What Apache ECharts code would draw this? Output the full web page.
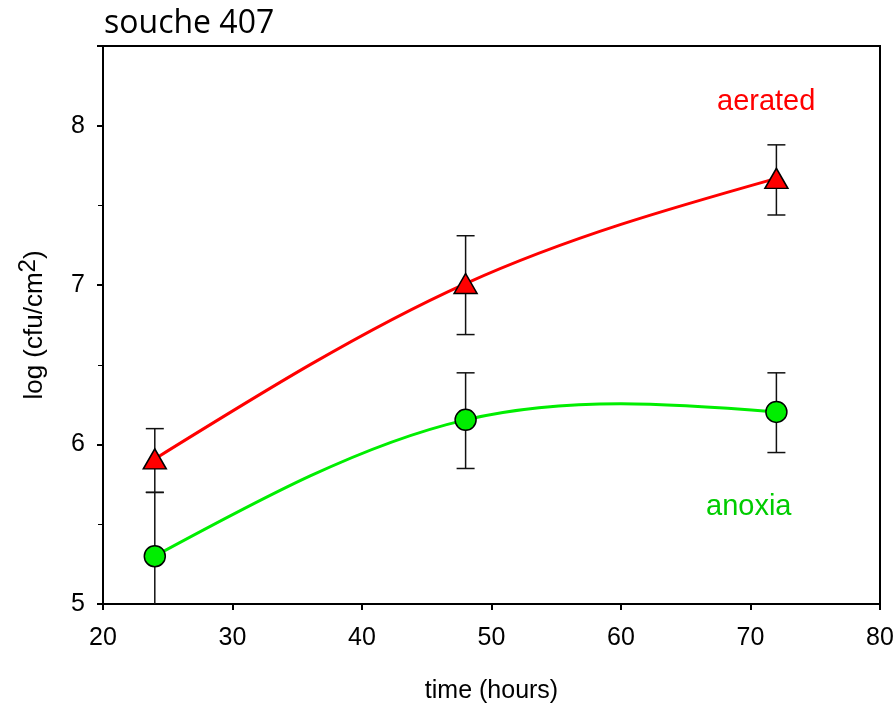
<!DOCTYPE html>
<html>
<head>
<meta charset="utf-8">
<script src="https://cdn.jsdelivr.net/npm/echarts@6/dist/echarts.min.js"></script>
<style>
  html, body { margin: 0; padding: 0; background: #fff; }
  #container { width: 896px; height: 705px; }
</style>
</head>
<body>
<div id="container"></div>
<script>
  // time (hours)
  var hours = [24, 48, 72];
  // log(cfu/cm2) means and error bar ends
  var aerated = [5.91, 7.01, 7.67];
  var aeratedHigh = [6.10, 7.31, 7.88];
  var aeratedLow = [5.70, 6.69, 7.44];
  var anoxia = [5.30, 6.155, 6.205];
  var anoxiaHigh = [5.70, 6.45, 6.45];
  var anoxiaLow = [4.90, 5.85, 5.95];

  var dom = document.getElementById('container');
  var myChart = echarts.init(dom);

  function pairs(xs, ys) {
    return xs.map(function (x, i) { return [x, ys[i]]; });
  }
  function errData(xs, lo, hi) {
    return xs.map(function (x, i) { return [x, lo[i], hi[i]]; });
  }

  function renderErr(params, api) {
    var x = api.value(0);
    var lo = api.coord([x, api.value(1)]);
    var hi = api.coord([x, api.value(2)]);
    var cap = 9;
    var style = { stroke: '#111', lineWidth: 1.5, fill: null };
    return {
      type: 'group',
      children: [
        { type: 'line', shape: { x1: lo[0], y1: lo[1], x2: hi[0], y2: hi[1] }, style: style },
        { type: 'line', shape: { x1: hi[0] - cap, y1: hi[1], x2: hi[0] + cap, y2: hi[1] }, style: style },
        { type: 'line', shape: { x1: lo[0] - cap, y1: lo[1], x2: lo[0] + cap, y2: lo[1] }, style: style }
      ]
    };
  }

  // natural cubic spline second derivatives (like the plotting program's spline curve)
  function splineM(xs, ys) {
    var n = xs.length, M = new Array(n).fill(0);
    if (n < 3) return M;
    var a = [], b = [], c = [], d = [];
    for (var i = 1; i < n - 1; i++) {
      var h0 = xs[i] - xs[i - 1], h1 = xs[i + 1] - xs[i];
      a.push(h0); b.push(2 * (h0 + h1)); c.push(h1);
      d.push(6 * ((ys[i + 1] - ys[i]) / h1 - (ys[i] - ys[i - 1]) / h0));
    }
    var m = b.length;
    for (var k = 1; k < m; k++) {
      var w = a[k] / b[k - 1];
      b[k] -= w * c[k - 1];
      d[k] -= w * d[k - 1];
    }
    var sol = new Array(m);
    sol[m - 1] = d[m - 1] / b[m - 1];
    for (k = m - 2; k >= 0; k--) sol[k] = (d[k] - c[k] * sol[k + 1]) / b[k];
    for (k = 0; k < m; k++) M[k + 1] = sol[k];
    return M;
  }

  function makeCurve(color) {
    return function (params, api) {
      var n = params.dataInsideLength;
      var i = params.dataIndexInside;
      if (i >= n - 1) return null;
      var xs = [], ys = [];
      for (var k = 0; k < n; k++) { xs.push(api.value(0, k)); ys.push(api.value(1, k)); }
      var M = splineM(xs, ys);
      var h = xs[i + 1] - xs[i];
      var s = (ys[i + 1] - ys[i]) / h;
      var d0 = s - h * (2 * M[i] + M[i + 1]) / 6;
      var d1 = s + h * (M[i] + 2 * M[i + 1]) / 6;
      var p0 = api.coord([xs[i], ys[i]]);
      var p3 = api.coord([xs[i + 1], ys[i + 1]]);
      var c1 = api.coord([xs[i] + h / 3, ys[i] + d0 * h / 3]);
      var c2 = api.coord([xs[i + 1] - h / 3, ys[i + 1] - d1 * h / 3]);
      return {
        type: 'bezierCurve',
        shape: { x1: p0[0], y1: p0[1], x2: p3[0], y2: p3[1], cpx1: c1[0], cpy1: c1[1], cpx2: c2[0], cpy2: c2[1] },
        style: { stroke: color, lineWidth: 3, fill: null }
      };
    };
  }

  var axisFont = 'Liberation Sans, Arial, sans-serif';

  var option = {
    animation: false,
    backgroundColor: '#fff',
    title: {
      text: 'souche 407',
      left: 99,
      top: 3,
      textStyle: { fontFamily: 'Open Sans, sans-serif', fontSize: 32, fontWeight: 'normal', color: '#000' }
    },
    grid: {
      left: 103, right: 16, top: 46, bottom: 101,
      outerBoundsMode: 'none',
      containLabel: false,
      show: true, borderColor: '#000', borderWidth: 2, backgroundColor: 'transparent'
    },
    xAxis: {
      type: 'value',
      min: 20, max: 80, interval: 10,
      name: 'time (hours)',
      nameLocation: 'middle',
      nameGap: 75,
      nameTextStyle: { fontFamily: axisFont, fontSize: 25, color: '#000' },
      axisLine: { show: true, onZero: false, lineStyle: { color: '#000', width: 2 } },
      axisTick: { show: true, inside: false, length: 6, lineStyle: { color: '#000', width: 2 } },
      axisLabel: { fontFamily: axisFont, fontSize: 25, color: '#000', margin: 22 },
      splitLine: { show: false }
    },
    yAxis: {
      type: 'value',
      min: 5, max: 8.5, interval: 1,
      name: '{t|log (cfu/cm}{s|2}{t|)}',
      nameLocation: 'middle',
      nameRotate: 90,
      nameGap: 55,
      nameTextStyle: {
        color: '#000',
        rich: {
          t: { fontFamily: axisFont, fontSize: 26, color: '#000', verticalAlign: 'bottom', lineHeight: 32 },
          s: { fontFamily: axisFont, fontSize: 24, color: '#000', verticalAlign: 'top', padding: [0, 0, 10, 0], lineHeight: 32 }
        }
      },
      axisLine: { show: true, onZero: false, lineStyle: { color: '#000', width: 2 } },
      axisTick: { show: true, inside: false, length: 6, lineStyle: { color: '#000', width: 2 } },
      minorTick: { show: true, splitNumber: 2, length: 5, lineStyle: { color: '#000', width: 1 } },
      axisLabel: {
        fontFamily: axisFont, fontSize: 25, color: '#000', margin: 18,
        formatter: function (v) { return Number.isInteger(v) ? String(v) : ''; }
      },
      splitLine: { show: false }
    },
    graphic: [
      { type: 'text', left: 717, top: 87, style: { text: 'aerated', fontFamily: axisFont, fontSize: 29, fill: '#ff0000' } },
      { type: 'text', left: 706, top: 492, style: { text: 'anoxia', fontFamily: axisFont, fontSize: 29, fill: '#00cc00' } }
    ],
    series: [
      {
        type: 'custom',
        name: 'aerated err',
        renderItem: renderErr,
        data: errData(hours, aeratedLow, aeratedHigh),
        clip: true,
        z: 1
      },
      {
        type: 'custom',
        name: 'anoxia err',
        renderItem: renderErr,
        data: errData(hours, anoxiaLow, anoxiaHigh),
        clip: true,
        z: 1
      },
      {
        type: 'custom',
        name: 'aerated curve',
        renderItem: makeCurve('#ff0000'),
        data: pairs(hours, aerated),
        clip: true,
        z: 2
      },
      {
        type: 'custom',
        name: 'anoxia curve',
        renderItem: makeCurve('#00ee00'),
        data: pairs(hours, anoxia),
        clip: true,
        z: 2
      },
      {
        type: 'scatter',
        name: 'aerated',
        data: pairs(hours, aerated),
        symbol: 'triangle',
        symbolSize: [23, 20],
        itemStyle: { color: '#ff0000', borderColor: '#000', borderWidth: 1.5, opacity: 1 },
        z: 3
      },
      {
        type: 'scatter',
        name: 'anoxia',
        data: pairs(hours, anoxia),
        symbol: 'circle',
        symbolSize: 21,
        itemStyle: { color: '#00ee00', borderColor: '#000', borderWidth: 1.5, opacity: 1 },
        z: 3
      }
    ]
  };

  myChart.setOption(option, true);
</script>
</body>
</html>
